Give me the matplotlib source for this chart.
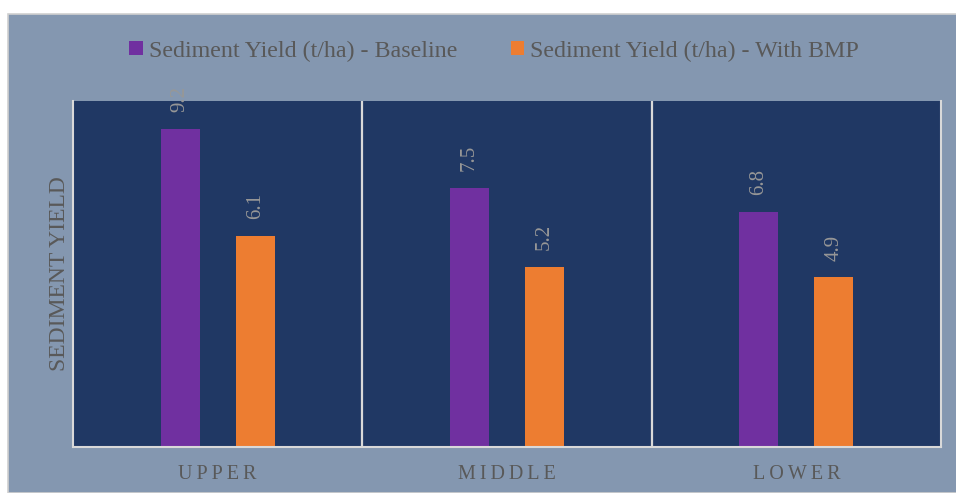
import matplotlib
matplotlib.use("Agg")
import matplotlib.pyplot as plt
import matplotlib.patches as mpatches
import numpy as np

# chart data
zones = ["UPPER", "MIDDLE", "LOWER"]
baseline = [9.2, 7.5, 6.8]
with_bmp = [6.1, 5.2, 4.9]
series_names = ["Sediment Yield (t/ha) - Baseline", "Sediment Yield (t/ha) - With BMP"]

plt.rcParams['font.family'] = ['Liberation Serif', 'DejaVu Serif']

fig = plt.figure(figsize=(9.56, 4.93), dpi=100)
fig.patch.set_facecolor('white')
# grey-blue panel behind the chart
fig.patches.append(mpatches.Rectangle((8 / 956, 0), 1, 1 - 14 / 493, transform=fig.transFigure,
                                      facecolor='#8497B0', edgecolor='#D0D0D0', lw=1.2, zorder=-1))

ax = fig.add_axes([73 / 956, 1 - 447 / 493, 868 / 956, 346 / 493])
ax.set_zorder(1)
ax.set_facecolor('#203864')

x = np.arange(len(zones))
w = 0.135
off = 0.13
b1 = ax.bar(x - off, baseline, w, color='#7030A0', label=series_names[0], zorder=2)
b2 = ax.bar(x + off, with_bmp, w, color='#ED7D31', label=series_names[1], zorder=2)

for bars in (b1, b2):
    for r in bars:
        ax.annotate(f"{r.get_height():.1f}", (r.get_x() + r.get_width() / 2, r.get_height()),
                    xytext=(0, 12), textcoords='offset points', rotation=90,
                    ha='center', va='bottom', color='#979797', fontsize=15,
                    annotation_clip=False)

# separators between categories
for i in range(len(zones) - 1):
    ax.axvline(i + 0.5, color='#D9D9D9', lw=1.6, zorder=1)

ax.set_xlim(-0.5, len(zones) - 0.5)
ax.set_ylim(0, 10)
ax.set_yticks([])
ax.set_xticks(x)
ax.set_xticklabels(["\u2009".join(z) for z in zones], fontsize=14.5, color='#595959')
ax.tick_params(axis='x', length=0, pad=13)
ax.set_ylabel("SEDIMENT YIELD", fontsize=17, color='#595959', labelpad=2)

for s in ('left', 'right', 'bottom'):
    ax.spines[s].set_color('#D9D9D9')
    ax.spines[s].set_linewidth(1.5)
ax.spines['top'].set_visible(False)

fig.legend(handles=[b1, b2], loc='center', bbox_to_anchor=(0.517, 1 - 51 / 493), ncol=2,
           frameon=False, fontsize=17.3, labelcolor='#595959', handlelength=0.55,
           handleheight=0.55, handletextpad=0.25, columnspacing=2.25)

fig.savefig("out.png", dpi=100, facecolor=fig.get_facecolor())
